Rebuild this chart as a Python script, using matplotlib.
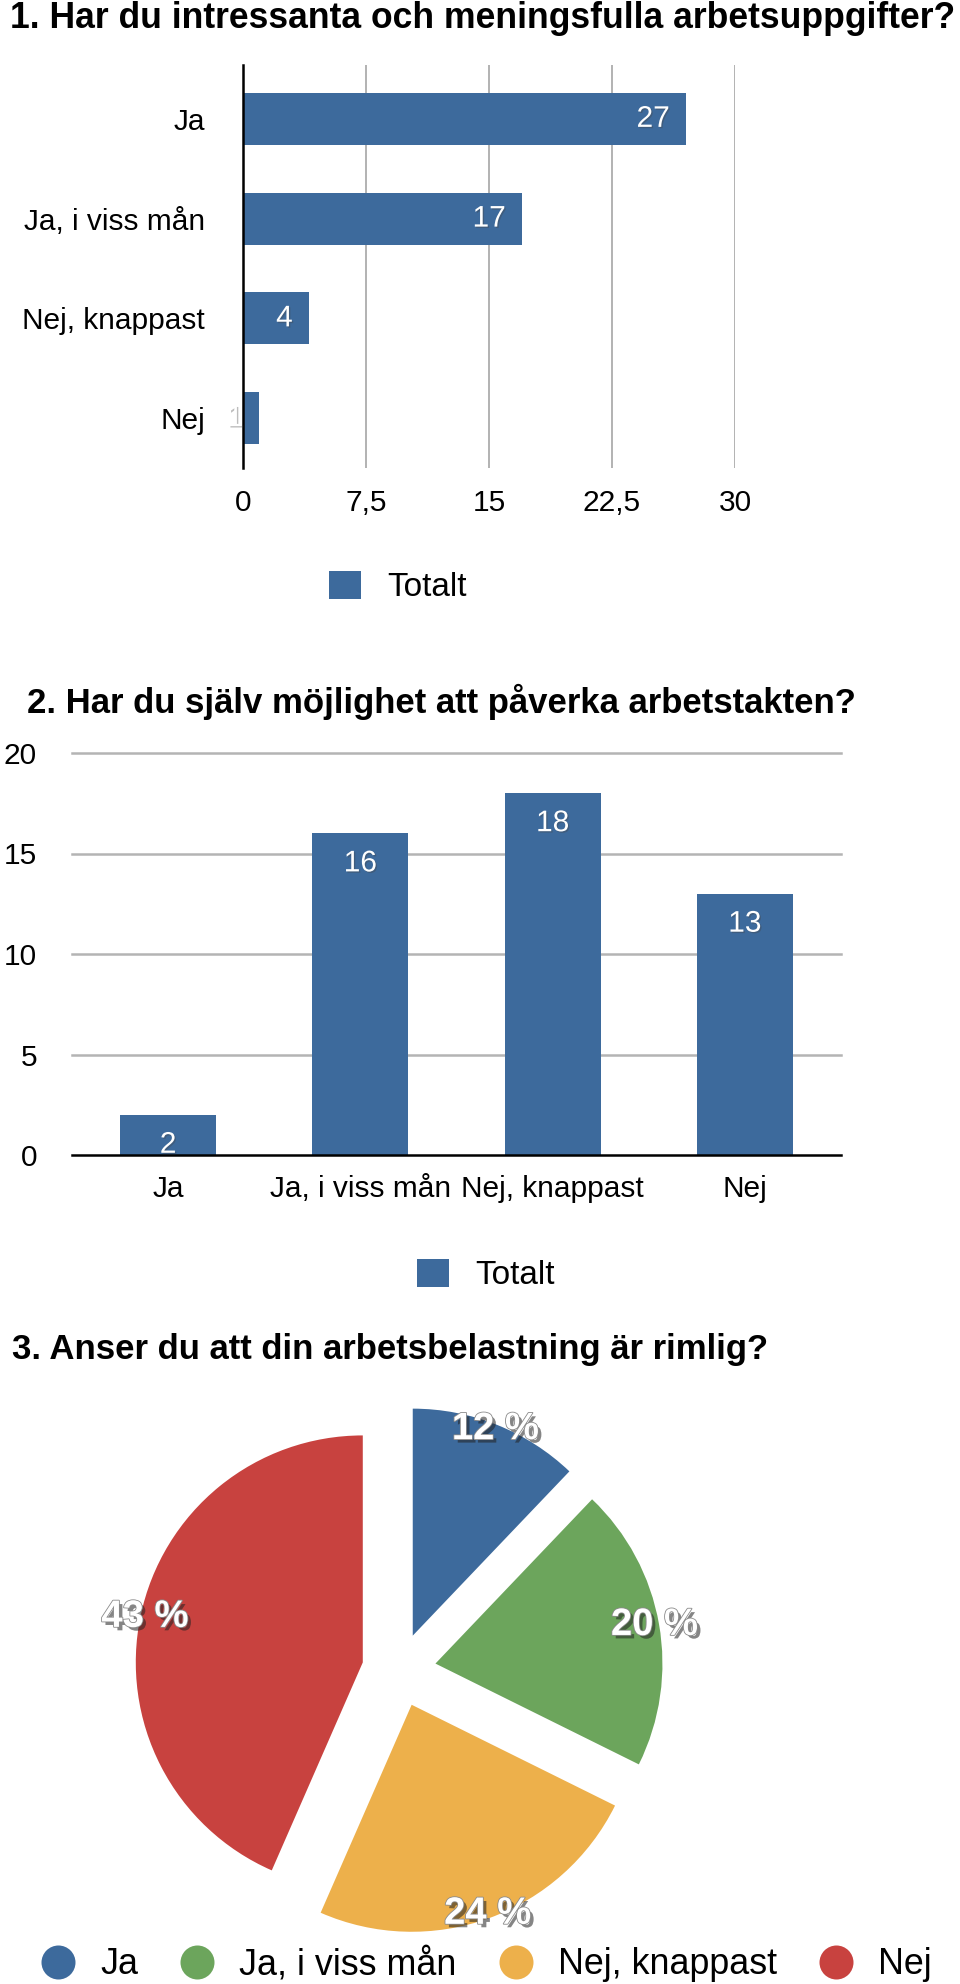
import matplotlib
matplotlib.use("Agg")
import matplotlib.pyplot as plt
import matplotlib.patheffects as pe
from matplotlib.lines import Line2D
import numpy as np

plt.rcParams['font.family'] = ['Liberation Sans', 'DejaVu Sans']

# data
categories = ['Ja', 'Ja, i viss mån', 'Nej, knappast', 'Nej']
q1_values = [27, 17, 4, 1]
q2_values = [2, 16, 18, 13]
q3_values = [12, 20, 24, 43]
q1_ticks = [0, 7.5, 15, 22.5, 30]
q1_ticklabels = ['0', '7,5', '15', '22,5', '30']
q2_ticks = [0, 5, 10, 15, 20]
series_name = 'Totalt'

titles = ['1. Har du intressanta och meningsfulla arbetsuppgifter?',
          '2. Har du själv möjlighet att påverka arbetstakten?',
          '3. Anser du att din arbetsbelastning är rimlig?']

blue = '#3d6a9c'
pie_colors = ['#3d6a9c', '#6ca55c', '#edb04b', '#c8423f']
grid_gray = '#b4b4b4'

W, H = 960, 1984
fig = plt.figure(figsize=(W / 100, H / 100), dpi=100)


def px_rect(left, top, right, bottom):
    return [left / W, 1 - bottom / H, (right - left) / W, (bottom - top) / H]


def px2pt(p):
    return p * 72 / 100


shadow = [pe.SimplePatchShadow(offset=(1, -1), shadow_rgbFace='#444444', alpha=0.35), pe.Normal()]

# ---- chart 1: horizontal bars
fig.text(10 / W, 1 - 18 / H, titles[0], fontsize=25.6, fontweight='bold', va='center', ha='left')

ax1 = fig.add_axes(px_rect(243, 65, 735, 468))
y = np.arange(len(categories))
bars1 = ax1.barh(y, q1_values, height=0.52, color=blue, zorder=3, label=series_name)
ax1.set_xlim(0, 30)
ax1.set_ylim(3.5, -0.54)
ax1.set_xticks(q1_ticks)
ax1.set_xticklabels(q1_ticklabels)
ax1.set_yticks(y)
ax1.set_yticklabels(categories)
ax1.tick_params(axis='both', length=0, labelsize=21.5)
ax1.tick_params(axis='y', pad=px2pt(38))
ax1.tick_params(axis='x', pad=px2pt(21))
for s in ['top', 'right', 'bottom']:
    ax1.spines[s].set_visible(False)
ax1.spines['left'].set_linewidth(px2pt(2.5))
ax1.spines['left'].set_zorder(4)
for t in q1_ticks[1:]:
    ax1.axvline(t, color=grid_gray, lw=px2pt(2), zorder=1)
for yi, v in zip(y, q1_values):
    ax1.annotate(str(v), (v, yi), xytext=(-px2pt(16), 0), textcoords='offset points',
                 ha='right', va='center', color='white', fontsize=21.5, zorder=5,
                 path_effects=shadow)
fig.legend(handles=[bars1], labels=[series_name], loc='center',
           bbox_to_anchor=(398 / W, 1 - 587 / H), frameon=False, fontsize=24,
           handlelength=0.95, handleheight=0.95, handletextpad=0.8)

# ---- chart 2: vertical bars
fig.text(27 / W, 1 - 702 / H, titles[1], fontsize=25, fontweight='bold', va='center', ha='left')

ax2 = fig.add_axes(px_rect(72, 753, 841, 1155))
x = np.arange(len(categories))
bars2 = ax2.bar(x, q2_values, width=0.5, color=blue, zorder=3, label=series_name)
ax2.set_xlim(-0.5, 3.5)
ax2.set_ylim(0, 20)
ax2.set_xticks(x)
ax2.set_xticklabels(categories)
ax2.set_yticks(q2_ticks)
ax2.tick_params(axis='both', length=0, labelsize=21.5)
ax2.tick_params(axis='y', pad=px2pt(35))
ax2.tick_params(axis='x', pad=px2pt(20))
for s in ['top', 'right', 'left', 'bottom']:
    ax2.spines[s].set_visible(False)
for t in q2_ticks[1:]:
    ax2.axhline(t, color=grid_gray, lw=px2pt(2.5), zorder=1, clip_on=False)
ax2.axhline(0, color='black', lw=px2pt(2.5), zorder=4, clip_on=False)
for xi, v in zip(x, q2_values):
    ax2.annotate(str(v), (xi, v), xytext=(0, -px2pt(30)), textcoords='offset points',
                 ha='center', va='center', color='white', fontsize=21.5, zorder=5,
                 path_effects=shadow)
fig.legend(handles=[bars2], labels=[series_name], loc='center',
           bbox_to_anchor=(486 / W, 1 - 1275 / H), frameon=False, fontsize=24,
           handlelength=0.95, handleheight=0.95, handletextpad=0.8)

# ---- chart 3: exploded pie
fig.text(12 / W, 1 - 1350 / H, titles[2], fontsize=25, fontweight='bold', va='center', ha='left')

ax3 = fig.add_axes(px_rect(99, 1370, 699, 1970))
wedges, texts, autotexts = ax3.pie(q3_values, colors=pie_colors, startangle=90, counterclock=False,
                                   explode=[0.163] * 4, autopct=lambda p: f'{p:.0f} %',
                                   pctdistance=0.98, wedgeprops=dict(linewidth=0))
lim = 300 / 227
ax3.set_xlim(-lim, lim)
ax3.set_ylim(-lim, lim)
ax3.set_aspect('equal')
for t in autotexts:
    t.set_color('white')
    t.set_fontsize(27.5)
    t.set_fontweight('bold')
    t.set_path_effects([pe.SimplePatchShadow(offset=(2.5, -2.5), shadow_rgbFace='#222222', alpha=0.55),
                        pe.Stroke(linewidth=1.2, foreground='#8a8a8a'), pe.Normal()])

handles = [Line2D([], [], marker='o', linestyle='none', markersize=px2pt(34),
                  markerfacecolor=c, markeredgewidth=0) for c in pie_colors]
fig.legend(handles=handles, labels=categories, loc='center', ncol=4,
           bbox_to_anchor=(486 / W, 1 - 1965 / H), frameon=False, fontsize=25.8,
           handlelength=1.0, handletextpad=0.67, columnspacing=1.15, borderpad=0.2)

fig.savefig('out.png', dpi=100)
